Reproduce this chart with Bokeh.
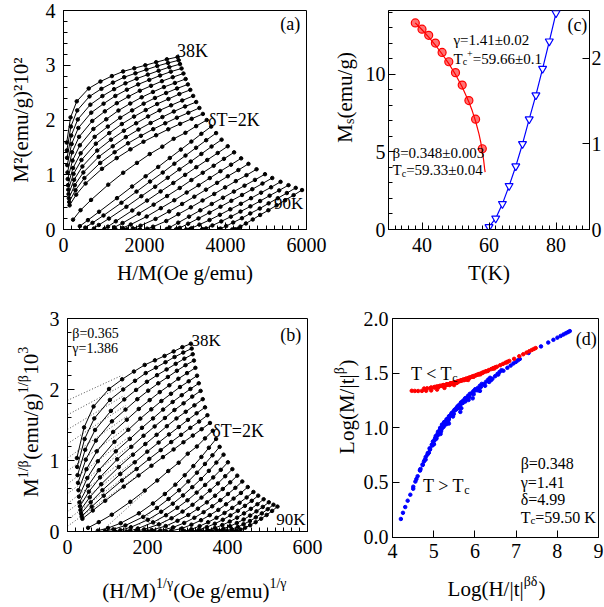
import math
from bokeh.plotting import figure
from bokeh.models import (Range1d, LinearAxis, SingleIntervalTicker, FixedTicker, Label,
                          PrintfTickFormatter, AllLabels)
from bokeh.layouts import row, column
from bokeh.embed import file_html
from bokeh.resources import INLINE

FONT = "Liberation Serif"

# ---------------- data ----------------
# isotherm temperatures (K) and applied fields (Oe)
temps = [38, 40, 42, 44, 46, 48, 50, 52, 54, 56, 58, 60, 62, 64,
         66, 68, 70, 72, 74, 76, 78, 80, 82, 84, 86, 88, 90]
fields = [1000, 2500, 5000, 10000, 15000, 20000, 25000, 30000, 35000, 40000, 45000, 50000]

# magnetization M (emu/g) of each isotherm at the fields above
m38 = [12.60, 14.31, 15.30, 16.05, 16.44, 16.74, 16.99, 17.16, 17.32, 17.48, 17.63, 17.75]
m40 = [12.02, 13.71, 14.75, 15.59, 16.03, 16.38, 16.68, 16.89, 17.09, 17.28, 17.44, 17.58]
m42 = [11.44, 13.10, 14.18, 15.10, 15.61, 16.01, 16.34, 16.60, 16.82, 17.03, 17.22, 17.38]
m44 = [10.84, 12.50, 13.62, 14.61, 15.16, 15.62, 15.98, 16.28, 16.53, 16.77, 16.98, 17.15]
m46 = [10.21, 11.87, 13.01, 14.08, 14.69, 15.19, 15.58, 15.92, 16.20, 16.46, 16.68, 16.88]
m48 = [9.60, 11.22, 12.40, 13.55, 14.19, 14.74, 15.17, 15.54, 15.85, 16.13, 16.36, 16.58]
m50 = [9.00, 10.60, 11.80, 13.01, 13.71, 14.29, 14.75, 15.16, 15.50, 15.79, 16.05, 16.28]
m52 = [8.53, 10.08, 11.27, 12.52, 13.27, 13.88, 14.36, 14.77, 15.14, 15.44, 15.73, 15.97]
m54 = [8.04, 9.53, 10.73, 12.01, 12.81, 13.43, 13.93, 14.37, 14.75, 15.06, 15.35, 15.62]
m56 = [7.55, 9.00, 10.21, 11.52, 12.33, 12.99, 13.51, 13.95, 14.33, 14.68, 14.99, 15.26]
m58 = [7.09, 8.48, 9.69, 11.03, 11.88, 12.55, 13.08, 13.54, 13.93, 14.29, 14.60, 14.90]
m60 = [6.64, 7.98, 9.17, 10.53, 11.42, 12.10, 12.66, 13.12, 13.53, 13.89, 14.22, 14.53]
m62 = [4.24, 5.94, 7.35, 9.05, 10.18, 11.03, 11.74, 12.30, 12.87, 13.29, 13.74, 14.14]
m64 = [2.48, 4.14, 5.69, 7.57, 8.86, 9.86, 10.69, 11.43, 12.08, 12.67, 13.22, 13.71]
m66 = [1.86, 3.49, 5.06, 6.99, 8.32, 9.36, 10.20, 10.96, 11.62, 12.22, 12.77, 13.27]
m68 = [1.33, 2.87, 4.46, 6.44, 7.80, 8.84, 9.72, 10.48, 11.14, 11.75, 12.31, 12.81]
m70 = [0.99, 2.28, 3.87, 5.89, 7.27, 8.34, 9.22, 9.99, 10.67, 11.27, 11.82, 12.33]
m72 = [0.78, 1.99, 3.43, 5.38, 6.74, 7.82, 8.71, 9.50, 10.18, 10.79, 11.36, 11.87]
m74 = [0.64, 1.71, 3.01, 4.87, 6.24, 7.31, 8.22, 8.99, 9.69, 10.32, 10.88, 11.40]
m76 = [0.53, 1.46, 2.63, 4.40, 5.75, 6.83, 7.74, 8.53, 9.23, 9.86, 10.42, 10.95]
m78 = [0.45, 1.21, 2.26, 3.94, 5.29, 6.36, 7.28, 8.06, 8.77, 9.40, 9.96, 10.49]
m80 = [0.39, 0.98, 1.91, 3.53, 4.84, 5.92, 6.83, 7.62, 8.32, 8.95, 9.52, 10.05]
m82 = [0.36, 0.89, 1.74, 3.25, 4.50, 5.55, 6.45, 7.24, 7.94, 8.58, 9.16, 9.70]
m84 = [0.33, 0.80, 1.58, 2.98, 4.16, 5.18, 6.07, 6.85, 7.56, 8.20, 8.78, 9.33]
m86 = [0.29, 0.73, 1.42, 2.72, 3.85, 4.84, 5.72, 6.50, 7.21, 7.86, 8.45, 9.00]
m88 = [0.26, 0.65, 1.29, 2.49, 3.58, 4.54, 5.42, 6.19, 6.91, 7.56, 8.16, 8.72]
m90 = [0.24, 0.59, 1.16, 2.29, 3.33, 4.28, 5.15, 5.93, 6.65, 7.31, 7.92, 8.49]
isotherms = [m38, m40, m42, m44, m46, m48, m50, m52, m54, m56, m58, m60, m62, m64,
             m66, m68, m70, m72, m74, m76, m78, m80, m82, m84, m86, m88, m90]

# modified-Arrott exponents (panel b) and scaling parameters (panel d)
beta_map, gamma_map = 0.365, 1.386
beta_s, gamma_s, delta_s, Tc_s = 0.348, 1.41, 4.99, 59.50
scaling_min_field = 4000

# panel (c): spontaneous magnetization, its fit, inverse susceptibility
Ms_T = [38, 40, 42, 44, 46, 48, 50, 52, 54, 56, 58]
Ms_val = [13.3, 12.9, 12.5, 12.0, 11.4, 10.8, 10.1, 9.3, 8.3, 7.1, 5.2]
Ms_fit_T = [38, 40, 42, 44, 46, 48, 50, 52, 54, 55, 56, 57, 57.5, 58, 58.4, 58.7, 58.85]
Ms_fit_val = [13.3, 12.86, 12.38, 11.87, 11.3, 10.68, 9.98, 9.17, 8.21, 7.64, 6.97, 6.16,
              5.66, 5.07, 4.47, 3.9, 3.7]
chi_T = [60, 62, 64, 66, 68, 70, 72, 74, 76, 78, 80]
chi_inv = [0.03, 0.13, 0.30, 0.51, 0.74, 1.00, 1.29, 1.57, 1.88, 2.20, 2.53]

# tick positions for panel (d)
d_xticks = [4, 5, 6, 7, 8, 9]
d_yticks = [0.0, 0.5, 1.0, 1.5, 2.0]

# ---------------- helpers ----------------
WID = {' ': 0.25, '(': 0.333, ')': 0.333, '/': 0.278, '|': 0.2, '<': 0.564, '>': 0.564,
       '=': 0.564, '+': 0.564, '±': 0.549, '.': 0.25, 'M': 0.889, 'H': 0.722, 'T': 0.611,
       'O': 0.722, 'L': 0.611, 'K': 0.722, 'e': 0.444, 'm': 0.778, 'u': 0.5, 'g': 0.5,
       'o': 0.5, 't': 0.278, 's': 0.389, 'c': 0.444, 'β': 0.55, 'γ': 0.45, 'δ': 0.5}


def text_w(s, fs):
    return sum(WID.get(ch, 0.5) for ch in s) * fs


def rich(fig, segs, x, y, size, angle=0.0, align="center", color="black"):
    """Text with sub/superscripts: one Label per segment, placed in data units."""
    small = round(size * 0.68)
    parts = []
    for txt, kind in segs:
        fs = small if kind else size
        parts.append((txt, kind, fs, text_w(txt, fs)))
    total = sum(p[3] for p in parts)
    pos = -total / 2 if align == "center" else 0.0
    for txt, kind, fs, w in parts:
        shift = 0.36 * size if kind == "^" else (-0.2 * size if kind == "_" else 0.0)
        base = shift - 0.3 * size
        if angle == 0:
            dx, dy = pos, base + 3
        else:
            dx, dy = -base - 9, pos
        fig.add_layout(Label(x=x, y=y, x_offset=dx, y_offset=dy, text=txt, text_font=FONT,
                             text_font_size=f"{fs}px", text_color=color, text_align="left",
                             text_baseline="alphabetic", angle=angle))
        pos += w


def style_axis(ax, standoff=8):
    ax.axis_line_color = "black"
    ax.major_tick_line_color = "black"
    ax.minor_tick_line_color = "black"
    ax.major_tick_in = 7
    ax.major_tick_out = 0
    ax.minor_tick_in = 4
    ax.minor_tick_out = 0
    ax.major_label_text_font = FONT
    ax.major_label_text_font_size = "20px"
    ax.major_label_text_color = "black"
    ax.major_label_standoff = standoff
    ax.major_label_policy = AllLabels()
    ax.axis_label_text_font = FONT
    ax.axis_label_text_font_size = "21px"
    ax.axis_label_text_font_style = "normal"
    ax.axis_label_text_color = "black"
    ax.axis_label_standoff = 6


def mkfig(w, h, xr, yr, bl, br, bt, bb, xt, yt):
    p = figure(width=w, height=h, x_range=Range1d(*xr), y_range=Range1d(*yr),
               output_backend="svg", toolbar_location=None,
               min_border_left=bl, min_border_right=br, min_border_top=bt, min_border_bottom=bb)
    p.outline_line_color = "black"
    p.outline_line_width = 1
    p.grid.visible = False
    p.xaxis.ticker = xt
    p.yaxis.ticker = yt
    for ax in p.axis:
        style_axis(ax)
    return p


def label_strip(w, h):
    """Small axis-less figure (pixel coordinates) that carries an axis title."""
    p = figure(width=w, height=h, x_range=Range1d(0, w), y_range=Range1d(0, h),
               output_backend="svg", toolbar_location=None, x_axis_type=None, y_axis_type=None,
               min_border=0, min_border_left=0, min_border_right=0, min_border_top=0,
               min_border_bottom=0)
    p.outline_line_color = None
    p.grid.visible = False
    return p


# ---------------- panel (a) ----------------
pa = mkfig(328, 300, (0, 6000), (0, 4), 63, 22, 10, 71,
           SingleIntervalTicker(interval=2000, num_minor_ticks=10),
           SingleIntervalTicker(interval=1, num_minor_ticks=5))
pa.xaxis.axis_label = "H/M(Oe g/emu)"
pa.yaxis.axis_label = "M²(emu/g)²10²"
pa.yaxis.axis_label_standoff = 10
for T, M in zip(temps, isotherms):
    xs = [H / m for H, m in zip(fields, M)]
    ys = [m * m / 100 for m in M]
    pa.line(xs, ys, line_color="black", line_width=1)
    pa.scatter(xs, ys, size=3.5, color="black")
rich(pa, [("38K", "")], 2800, 3.30, 18, align="left")
rich(pa, [("δT=2K", "")], 3570, 2.04, 18, align="left")
rich(pa, [("90K", "")], 5200, 0.52, 17, align="left")
rich(pa, [("(a)", "")], 5350, 3.80, 18, align="left")

# ---------------- panel (c) ----------------
ylab_c = label_strip(34, 300)
rich(ylab_c, [("M", ""), ("s", "_"), ("(emu/g)", "")], 19, 181, 21, angle=math.pi / 2)

pc = mkfig(242, 300, (30, 90), (0, 14.1), 23, 12, 10, 71,
           SingleIntervalTicker(interval=20, num_minor_ticks=10),
           SingleIntervalTicker(interval=5, num_minor_ticks=5))
pc.yaxis.major_label_standoff = 3
pc.xaxis.axis_label = "T(K)"
pc.extra_y_ranges = {"chi": Range1d(0, 2.56)}
pc.line(Ms_fit_T, Ms_fit_val, line_color="red", line_width=1.2)
pc.scatter(Ms_T, Ms_val, marker="circle", size=8, fill_color="red", fill_alpha=0.55,
           line_color="red", line_width=1.2)
pc.line(chi_T, chi_inv, y_range_name="chi", line_color="blue", line_width=1.2)
pc.scatter(chi_T, chi_inv, y_range_name="chi", marker="inverted_triangle", size=8,
           fill_color="white", line_color="blue", line_width=1.2)
right_ax = LinearAxis(y_range_name="chi", ticker=SingleIntervalTicker(interval=1, num_minor_ticks=0))
style_axis(right_ax, standoff=2)
pc.add_layout(right_ax, "right")
rich(pc, [("γ=1.41±0.02", "")], 49.4, 12.3, 15, align="left")
rich(pc, [("T", ""), ("c", "_"), ("+", "^"), ("=59.66±0.1", "")], 49.4, 11.1, 15, align="left")
rich(pc, [("β=0.348±0.003", "")], 31.2, 5.0, 15, align="left")
rich(pc, [("T", ""), ("c", "_"), ("=59.33±0.04", "")], 31.2, 3.9, 15, align="left")
rich(pc, [("(c)", "")], 83.4, 13.3, 18, align="left")

# ---------------- panel (b) ----------------
ylab_b = label_strip(44, 268)
rich(ylab_b, [("M", ""), ("1/β", "^"), ("(emu/g)", ""), ("1/β", "^"), ("10", ""), ("3", "^")],
     33, 138, 21, angle=math.pi / 2)
pb = mkfig(282, 268, (0, 600), (0, 3), 23, 19, 18, 37,
           SingleIntervalTicker(interval=200, num_minor_ticks=10),
           SingleIntervalTicker(interval=1, num_minor_ticks=5))
for T, M in zip(temps, isotherms):
    xs = [(H / m) ** (1 / gamma_map) for H, m in zip(fields, M)]
    ys = [m ** (1 / beta_map) / 1000 for m in M]
    # dotted linear extrapolation of the high-field part
    s = (ys[11] - ys[6]) / (xs[11] - xs[6])
    c0 = ys[11] - s * xs[11]
    x0, y0 = (0.0, c0) if c0 >= 0 else (-c0 / s, 0.0)
    x1 = xs[4]
    pb.line([x0, x1], [y0, c0 + s * x1], line_color="black", line_width=0.7, line_dash="1 2")
    pb.line(xs, ys, line_color="black", line_width=1)
    pb.scatter(xs, ys, size=3.5, color="black")
rich(pb, [("β=0.365", "")], 12, 2.80, 14, align="left")
rich(pb, [("γ=1.386", "")], 12, 2.59, 14, align="left")
rich(pb, [("38K", "")], 310, 2.72, 17, align="left")
rich(pb, [("δT=2K", "")], 362, 1.45, 18, align="left")
rich(pb, [("90K", "")], 522, 0.20, 17, align="left")
rich(pb, [("(b)", "")], 532, 2.80, 18, align="left")
xlab_b = label_strip(326, 39)
rich(xlab_b, [("(H/M)", ""), ("1/γ", "^"), ("(Oe g/emu)", ""), ("1/γ", "^")], 194, 20, 21)

# ---------------- panel (d) ----------------
ylab_d = label_strip(34, 268)
rich(ylab_d, [("Log(M/|t|", ""), ("β", "^"), (")", "")], 23, 160, 21, angle=math.pi / 2)
pd = mkfig(244, 268, (4, 9), (-0.004, 2.0), 29, 6, 18, 31,
           FixedTicker(ticks=d_xticks), FixedTicker(ticks=d_yticks))
pd.yaxis.formatter = PrintfTickFormatter(format="%.1f")
pd.yaxis.major_label_standoff = 4
pd.xaxis.major_label_standoff = 6
bd = beta_s * delta_s
below_x, below_y, above_x, above_y = [], [], [], []
for T, M in zip(temps, isotherms):
    t = abs((T - Tc_s) / Tc_s)
    for H, m in zip(fields, M):
        if H < scaling_min_field:
            continue
        X = math.log10(H / t ** bd)
        Y = math.log10(m / t ** beta_s)
        if T < Tc_s:
            below_x.append(X); below_y.append(Y)
        else:
            above_x.append(X); above_y.append(Y)
pd.scatter(above_x, above_y, size=3.5, color="blue")
pd.scatter(below_x, below_y, size=3.5, color="red")
rich(pd, [("T < T", ""), ("c", "_")], 4.45, 1.51, 18, align="left")
rich(pd, [("T > T", ""), ("c", "_")], 4.74, 0.49, 18, align="left")
rich(pd, [("β=0.348", "")], 7.11, 0.69, 16, align="left")
rich(pd, [("γ=1.41", "")], 7.11, 0.52, 16, align="left")
rich(pd, [("δ=4.99", "")], 7.11, 0.36, 16, align="left")
rich(pd, [("T", ""), ("c", "_"), ("=59.50 K", "")], 7.11, 0.20, 16, align="left")
rich(pd, [("(d)", "")], 8.45, 1.83, 18, align="left")
xlab_d = label_strip(278, 39)
rich(xlab_d, [("Log(H/|t|", ""), ("βδ", "^"), (")", "")], 170, 22, 21)

layout = column(
    row(pa, ylab_c, pc),
    row(column(row(ylab_b, pb), xlab_b), column(row(ylab_d, pd), xlab_d)),
)
open("out.html", "w").write(file_html(layout, INLINE))
